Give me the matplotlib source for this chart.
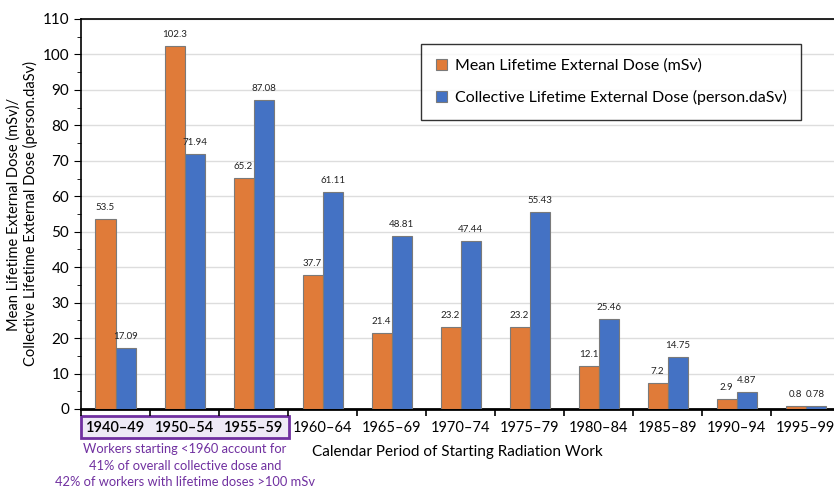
import numpy as np
import matplotlib.pyplot as plt
from matplotlib.patches import Rectangle

plt.rcParams['font.family'] = ['Lato', 'DejaVu Sans']

periods = ['1940–49', '1950–54', '1955–59', '1960–64', '1965–69', '1970–74',
           '1975–79', '1980–84', '1985–89', '1990–94', '1995–99']
mean_dose = [53.5, 102.3, 65.2, 37.7, 21.4, 23.2, 23.2, 12.1, 7.2, 2.9, 0.8]
coll_dose = [17.09, 71.94, 87.08, 61.11, 48.81, 47.44, 55.43, 25.46, 14.75, 4.87, 0.78]
mean_lbl = ['53.5', '102.3', '65.2', '37.7', '21.4', '23.2', '23.2', '12.1', '7.2', '2.9', '0.8']
coll_lbl = ['17.09', '71.94', '87.08', '61.11', '48.81', '47.44', '55.43', '25.46', '14.75', '4.87', '0.78']

orange = '#E07B39'
blue = '#4472C4'
purple = '#7030A0'

fig = plt.figure(figsize=(8.34, 4.88), dpi=100)
ax = fig.add_axes([81 / 834, 1 - 409 / 488, 1 - 81 / 834, 390 / 488])

x = np.arange(len(periods))
w = 0.29
ax.bar(x - w / 2, mean_dose, w, color=orange, edgecolor='#7a7a7a', linewidth=0.8,
       label='Mean Lifetime External Dose (mSv)', zorder=3)
ax.bar(x + w / 2, coll_dose, w, color=blue, edgecolor='#7a7a7a', linewidth=0.8,
       label='Collective Lifetime External Dose (person.daSv)', zorder=3)

for xi, v, t in zip(x, mean_dose, mean_lbl):
    ax.text(xi - w / 2, v + 2, t, ha='center', va='bottom', fontsize=7, color='#222222')
for xi, v, t in zip(x, coll_dose, coll_lbl):
    ax.text(xi + w / 2, v + 2, t, ha='center', va='bottom', fontsize=7, color='#222222')

ax.set_ylim(0, 110)
ax.set_xlim(-0.5, 10.41)
ax.set_yticks(np.arange(0, 111, 10))
ax.set_yticks(np.arange(0, 111, 5), minor=True)
ax.tick_params(axis='y', which='major', labelsize=11, length=5, direction='out')
ax.tick_params(axis='y', which='minor', length=3)
ax.yaxis.grid(True, color='#dddddd', linewidth=1, zorder=0)

ax.set_xticks(np.arange(-0.5, 10.5, 1))
ax.set_xticklabels([])
ax.set_xticks(x, minor=True)
ax.set_xticklabels(periods, minor=True)
ax.tick_params(axis='x', which='major', length=5, width=1.2)
ax.tick_params(axis='x', which='minor', length=0, labelsize=10.5, pad=9)
for lbl in ax.get_xticklabels(minor=True)[:3]:
    lbl.set_color('black')
    lbl.set_fontweight('semibold')

ax.spines['right'].set_visible(False)
ax.spines['bottom'].set_linewidth(2)
ax.spines['left'].set_linewidth(1.2)
ax.spines['top'].set_linewidth(1.2)

ax.set_ylabel('Mean Lifetime External Dose (mSv)/\nCollective Lifetime External Dose (person.daSv)',
              fontsize=10.5, labelpad=3)
ax.set_xlabel('Calendar Period of Starting Radiation Work', fontsize=11, labelpad=7)

# highlight box around the first three periods
fig.patches.append(Rectangle((81 / 834, 1 - 438 / 488), 208 / 834, 22 / 488,
                             transform=fig.transFigure, facecolor='#EEEAF6',
                             edgecolor=purple, linewidth=2, zorder=-1))
fig.text(185 / 834, 1 - 443 / 488,
         'Workers starting <1960 account for\n41% of overall collective dose and\n42% of workers with lifetime doses >100 mSv',
         ha='center', va='top', color=purple, fontsize=9.3, linespacing=1.45)

leg = ax.legend(loc='upper right', bbox_to_anchor=(801 / 834, 1 - 44 / 488),
                bbox_transform=fig.transFigure, fontsize=11.5, frameon=True,
                fancybox=False, edgecolor='black', handlelength=0.7, handleheight=0.7,
                labelspacing=1.1, borderpad=0.9, handletextpad=0.5, borderaxespad=0)
leg.get_frame().set_linewidth(1)

fig.savefig('out.png', dpi=100)
